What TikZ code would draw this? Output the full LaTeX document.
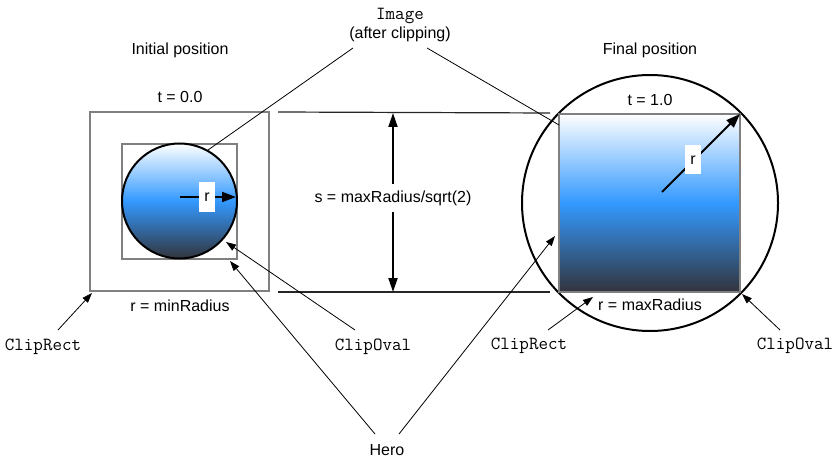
\documentclass[tikz,border=0pt]{standalone}
\usepackage{fontspec}
\setmainfont{Liberation Sans}
\usetikzlibrary{arrows.meta}
\definecolor{boxgray}{RGB}{128,128,128}
\definecolor{gblue}{RGB}{51,153,255}
\definecolor{gdark}{RGB}{50,52,60}
\begin{document}
\begin{tikzpicture}[x=1pt,y=-1pt,
  lbl/.style={font=\fontsize{16}{19}\selectfont, inner sep=1pt},
  code/.style={font=\fontsize{18.5}{21}\selectfont\ttfamily, inner sep=1pt},
  clipbox/.style={draw=boxgray, line width=2pt, inner sep=0pt, outer sep=0pt},
  grad/.style={top color=white, bottom color=gdark, middle color=gblue},
  ovalline/.style={draw=black, line width=2pt, inner sep=0pt, outer sep=0pt},
  pointer/.style={line width=0.8pt, -{Triangle[length=10pt,width=7pt]}},
  plainline/.style={line width=0.8pt},
  guide/.style={line width=1.2pt, draw=black!85},
  radarrow/.style={line width=2pt, -{Triangle[length=14pt,width=10pt]}},
  measure/.style={line width=2pt, {Triangle[length=14pt,width=9pt]}-{Triangle[length=14pt,width=9pt]}},
  rtag/.style={fill=white, font=\fontsize{16}{19}\selectfont, minimum width=16pt, minimum height=29pt, inner sep=0pt},
]
\useasboundingbox (0,0) rectangle (840,465);

% ---------- left (initial) ----------
\node[clipbox, minimum width=179pt, minimum height=179pt] (outerL) at (179.5,201.5) {};
\node[clipbox, minimum width=115pt, minimum height=115pt] (rectL) at (179.5,201.5) {};
\node[ovalline, circle, grad, minimum size=115pt] (ovalL) at (179.5,201) {};
\coordinate (rLs) at (180,197);
\coordinate (rLe) at (236,197);
\draw[radarrow] (rLs) -- (rLe);
\node[rtag] (rLlbl) at (207,197) {r};

\node[lbl] (initpos) at (180,50) {Initial position};
\node[lbl] (t0) at (180,97) {t = 0.0};
\node[lbl] (rmin) at (180,306) {r = minRadius};

% ---------- right (final) ----------
\node[ovalline, circle, minimum size=256pt] (ovalR) at (650,203) {};
\node[clipbox, grad, minimum width=181pt, minimum height=178pt] (rectR) at (649.5,203) {};
\coordinate (rRs) at (662,192);
\draw[radarrow] (rRs) -- (rectR.north east);
\node[rtag] (rRlbl) at (693,160) {r};

\node[lbl] (finalpos) at (650,50) {Final position};
\node[lbl] (t1) at (650,100) {t = 1.0};
\node[lbl] (rmax) at (650,305) {r = maxRadius};

% ---------- guides and measure ----------
\coordinate (gTl) at (278,112);
\coordinate (gTr) at (550,113);
\coordinate (gBl) at (278,292);
\coordinate (gBr) at (550,292);
\draw[guide] (gTl) -- (gTr);
\draw[guide] (gBl) -- (gBr);
\coordinate (mT) at (393,113);
\coordinate (mB) at (393,292);
\draw[measure] (mT) -- (mB);
\node[lbl, fill=white, inner xsep=1pt, inner ysep=7pt] (slbl) at (393,198) {s = maxRadius/sqrt(2)};

% ---------- Image label ----------
\node[code] (img) at (400,16) {Image};
\node[lbl] (imgsub) at (400,34) {(after clipping)};
\coordinate (imgA) at (353,48);
\coordinate (imgB) at (427,48);
\coordinate (imgTL) at (208,150);
\coordinate (imgTR) at (559,125);
\draw[plainline] (imgA) -- (imgTL);
\draw[plainline] (imgB) -- (imgTR);

% ---------- bottom labels ----------
\node[code] (crL) at (43,347) {ClipRect};
\node[code] (coL) at (373,347) {ClipOval};
\node[code] (crR) at (529,346) {ClipRect};
\node[code] (coR) at (795,346) {ClipOval};
\node[lbl] (hero) at (387,450) {Hero};

\coordinate (crLs) at (58,330);
\coordinate (crLe) at (92,293);
\draw[pointer] (crLs) -- (crLe);
\coordinate (coLs) at (355,330);
\coordinate (coLe) at (226,242);
\draw[pointer] (coLs) -- (coLe);
\coordinate (crRs) at (548,330);
\coordinate (crRe) at (593,297);
\draw[pointer] (crRs) -- (crRe);
\coordinate (coRs) at (780,330);
\coordinate (coRe) at (742,294);
\draw[pointer] (coRs) -- (coRe);

\coordinate (heroA) at (375,434);
\coordinate (heroB) at (399,434);
\coordinate (heroTL) at (230,261);
\coordinate (heroTR) at (555,236);
\draw[pointer] (heroA) -- (heroTL);
\draw[pointer] (heroB) -- (heroTR);
\end{tikzpicture}
\end{document}
